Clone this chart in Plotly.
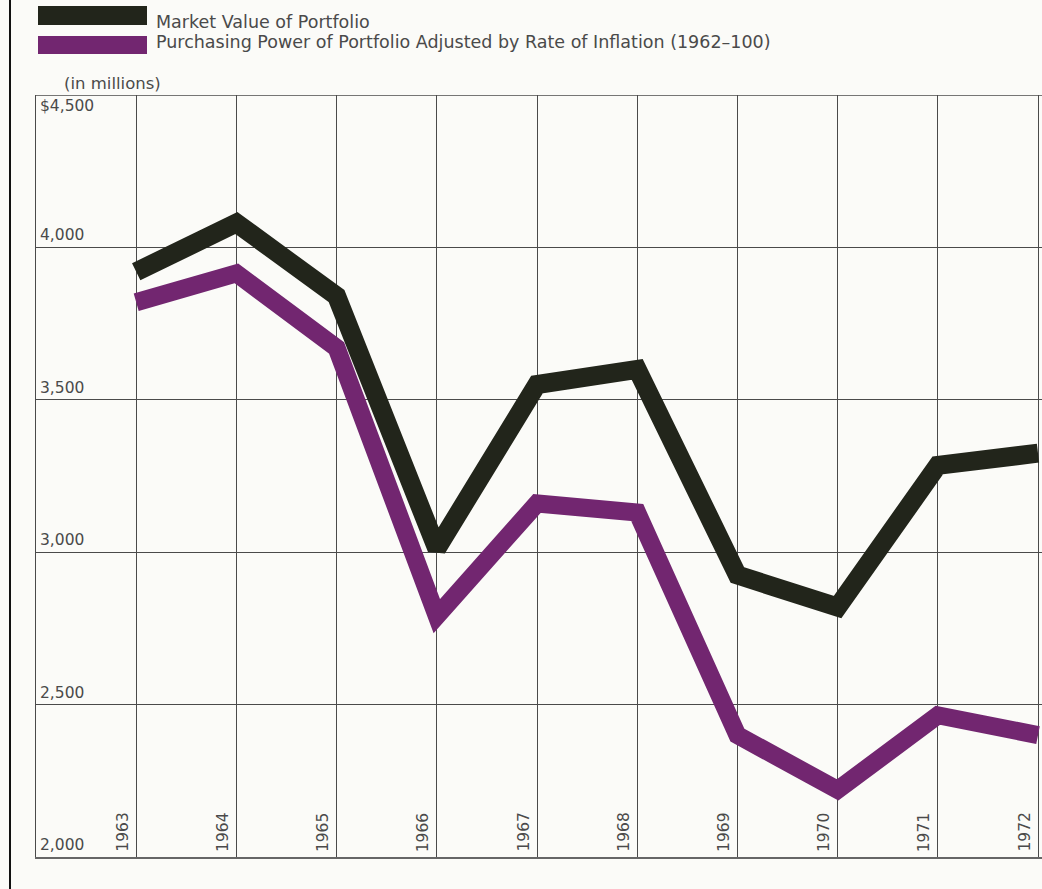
import plotly.graph_objects as go

years = [1963, 1964, 1965, 1966, 1967, 1968, 1969, 1970, 1971, 1972]
market_value = [3920, 4080, 3840, 3012, 3550, 3600, 2925, 2820, 3285, 3325]
purchasing_power = [3820, 3915, 3670, 2790, 3160, 3130, 2400, 2220, 2465, 2400]
y_ticks = [2000, 2500, 3000, 3500, 4000, 4500]
y_tick_labels = ["2,000", "2,500", "3,000", "3,500", "4,000", "$4,500"]
series_names = ["Market Value of Portfolio",
                "Purchasing Power of Portfolio Adjusted by Rate of Inflation (1962\u2013100)"]

BLACK = "#22251b"
PURPLE = "#722670"
BG = "#fbfbf8"
GRID = "#4a4a4a"
TEXT = "#4a4a4a"
FONT = "DejaVu Sans, Liberation Sans, Arial, sans-serif"

W, H = 1042, 889
L, R, T, B = 36, 0, 95, 32
plot_w = W - L - R
plot_h = H - T - B


def px_x(px):
    return (px - L) / plot_w


def px_y(py):
    return (H - B - py) / plot_h


fig = go.Figure()
fig.add_trace(go.Scatter(x=years, y=market_value, mode="lines",
                         line=dict(color=BLACK, width=19), name=series_names[0],
                         showlegend=False))
fig.add_trace(go.Scatter(x=years, y=purchasing_power, mode="lines",
                         line=dict(color=PURPLE, width=18), name=series_names[1],
                         showlegend=False))

annotations = []
shapes = []

# legend swatches and labels
swatch_top = [6, 36]
swatch_h = [19, 18]
text_mid = [22, 42]
for i, (name, col) in enumerate(zip(series_names, [BLACK, PURPLE])):
    top = swatch_top[i]
    shapes.append(dict(type="rect", xref="paper", yref="paper",
                       x0=px_x(38), x1=px_x(147), y0=px_y(top + swatch_h[i]), y1=px_y(top),
                       fillcolor=col, line=dict(width=0), layer="above"))
    annotations.append(dict(text=name, xref="paper", yref="paper",
                            x=px_x(154), y=px_y(text_mid[i]), xanchor="left", yanchor="middle",
                            showarrow=False, font=dict(size=17.5, color=TEXT)))

annotations.append(dict(text="(in millions)", xref="paper", yref="paper",
                        x=px_x(62), y=px_y(83), xanchor="left", yanchor="middle",
                        showarrow=False, font=dict(size=16.5, color=TEXT)))

# y tick labels inside the plot
for v, lab in zip(y_ticks, y_tick_labels):
    if v == max(y_ticks):
        annotations.append(dict(text=lab, xref="paper", yref="y", x=0, y=v,
                                xanchor="left", yanchor="top", xshift=2, yshift=0,
                                showarrow=False, font=dict(size=15.5, color=TEXT)))
    else:
        annotations.append(dict(text=lab, xref="paper", yref="y", x=0, y=v,
                                xanchor="left", yanchor="bottom", xshift=2, yshift=1,
                                showarrow=False, font=dict(size=15.5, color=TEXT)))

# year labels, rotated, just left of each gridline
for yr in years:
    annotations.append(dict(text=str(yr), xref="x", yref="y", x=yr, y=min(y_ticks),
                            xanchor="center", yanchor="bottom", xshift=-14, yshift=3,
                            textangle=-90, showarrow=False,
                            font=dict(size=15.5, color=TEXT)))

# top border of the grid
shapes.append(dict(type="line", xref="paper", yref="y", x0=0, x1=1,
                   y0=max(y_ticks), y1=max(y_ticks), line=dict(color=GRID, width=1.5)))
# left page border
shapes.append(dict(type="line", xref="paper", yref="paper",
                   x0=px_x(10), x1=px_x(10), y0=px_y(889), y1=px_y(0),
                   line=dict(color="#111111", width=2)))

fig.update_layout(
    width=W, height=H,
    margin=dict(l=L, r=R, t=T, b=B),
    paper_bgcolor=BG, plot_bgcolor=BG,
    font=dict(family=FONT, color=TEXT),
    annotations=annotations, shapes=shapes,
    xaxis=dict(range=[1962, 1972 + 4 / 100.2], tickvals=years, showticklabels=False,
               showgrid=True, gridcolor=GRID, gridwidth=1, zeroline=False,
               showline=True, linecolor="#666666", linewidth=2, ticks="", fixedrange=True),
    yaxis=dict(range=[2000, 4500], tickvals=y_ticks, showticklabels=False,
               showgrid=True, gridcolor=GRID, gridwidth=1, zeroline=False,
               showline=True, linecolor=GRID, linewidth=1, ticks="", fixedrange=True),
    showlegend=False,
)

fig.write_html("out.html", config={"displayModeBar": False})
